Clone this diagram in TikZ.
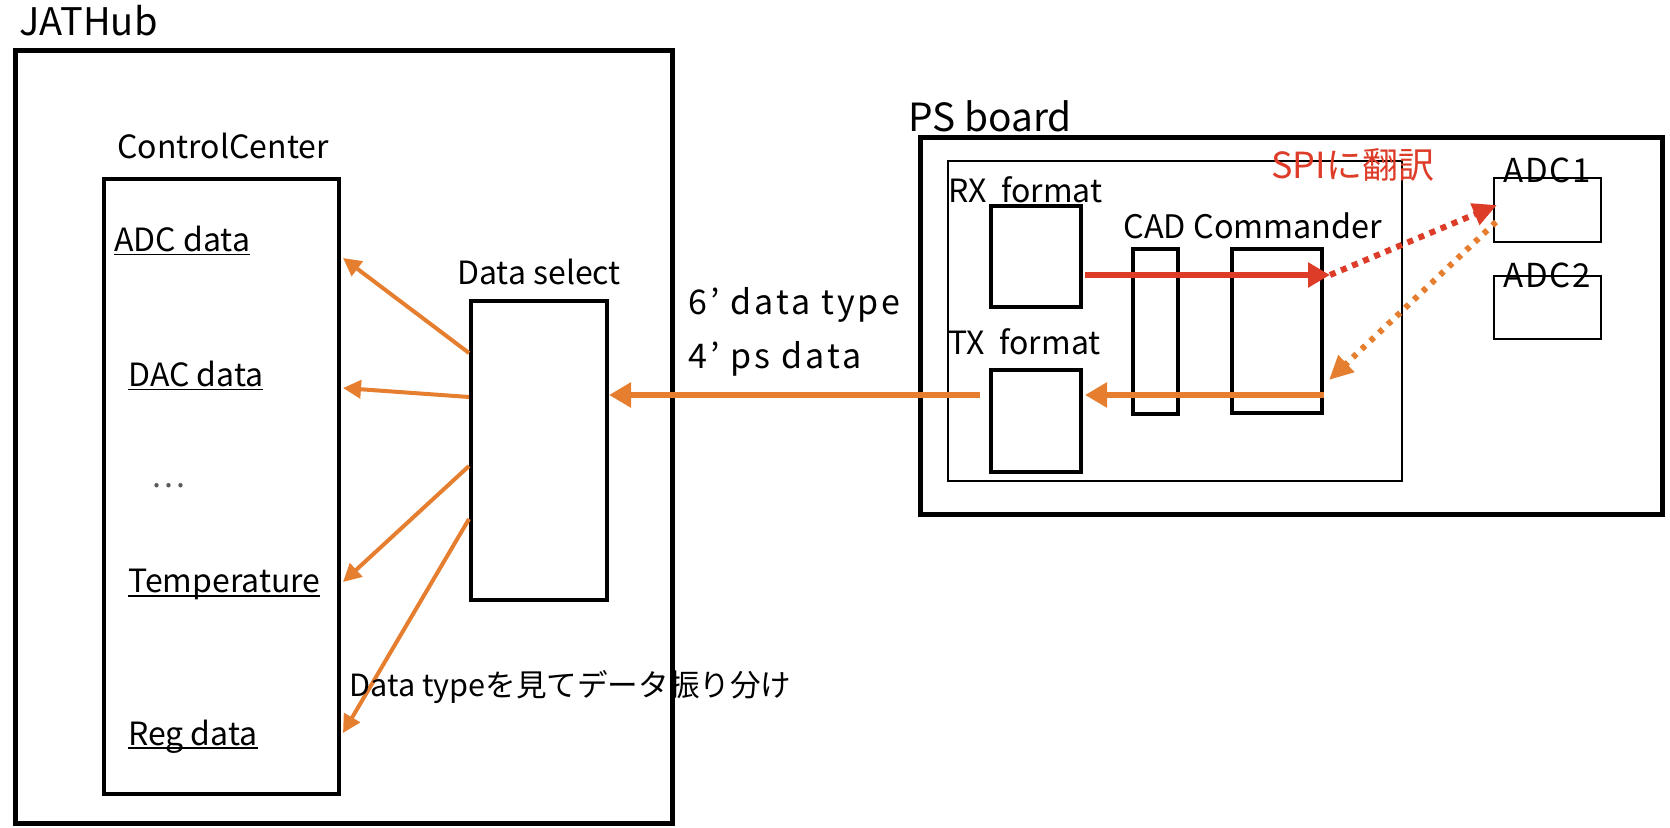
\documentclass[tikz,border=0pt]{standalone}
\usepackage{fontspec}
\setmainfont{Noto Sans CJK JP}
\usetikzlibrary{arrows.meta,fit}
\definecolor{aorange}{RGB}{230,126,48}
\definecolor{ared}{RGB}{221,60,40}
\definecolor{agray}{RGB}{90,90,90}
\newcommand\fsz[1]{\fontsize{#1}{#1}\selectfont}
\newlength\ulw
\newcommand\ultext[1]{\settowidth\ulw{#1}\makebox[0pt][l]{\rule[-1.9pt]{\ulw}{0.8pt}}#1}
\begin{document}
\begin{tikzpicture}[x=0.5pt,y=-0.5pt,
  boxA/.style={draw,line width=2.5pt,inner sep=0pt},
  boxB/.style={draw,line width=2pt,inner sep=0pt},
  boxC/.style={draw,line width=1pt,inner sep=0pt},
  boxD/.style={draw,line width=0.9pt,inner sep=0pt},
  lbl/.style={anchor=base west,inner sep=0pt,font=\fsz{16}},
  sel/.style={aorange,line width=2pt,-{Triangle[length=9pt,width=9pt]}},
  bigo/.style={aorange,line width=3pt,-{Triangle[length=11pt,width=12pt]}},
  bigr/.style={ared,line width=2.8pt,-{Triangle[length=11pt,width=12pt]}},
  dotr/.style={ared,line width=3pt,dash pattern=on 3pt off 3pt,-{Triangle[length=12pt,width=11pt]}},
  doto/.style={aorange,line width=3pt,dash pattern=on 2.5pt off 3.5pt,-{Triangle[length=12pt,width=11pt]}},
]
\useasboundingbox (0,0) rectangle (1670,828);
% JATHub
\node[boxA,fit={(15,51)(672,823)}] (jat) {};
\node[lbl,font=\fsz{19}] (jatl) at (19,36) {JATHub};
\node[boxB,fit={(103.5,179)(339,794)}] (cc) {};
\node[lbl] (ccl) at (117,159) {ControlCenter};
\node[lbl] (adc) at (114,251.7) {\ultext{ADC data}};
\node[lbl] (dac) at (128,386.7) {\ultext{DAC data}};
\node[anchor=center,inner sep=0pt,text=agray,font=\fsz{16}] (dots) at (168,486) {…};
\node[lbl] (temp) at (128,592.7) {\ultext{Temperature}};
\node[lbl] (reg) at (128,745) {\ultext{Reg data}};
\node[boxB,fit={(471,301)(607,600)}] (ds) {};
\node[lbl] (dsl) at (457,285) {Data select};
\coordinate (t1) at (343,258);
\coordinate (t2) at (343,388);
\coordinate (t3) at (343,582);
\coordinate (t4) at (343,733);
\draw[sel] ([yshift=-27pt]ds.north west) -- (t1);
\draw[sel] ([yshift=-49pt]ds.north west) -- (t2);
\draw[sel] ([yshift=-83.5pt]ds.north west) -- (t3);
\draw[sel] ([yshift=-110pt]ds.north west) -- (t4);
\node[lbl,font=\fsz{17}\addfontfeatures{LetterSpace=9}] (l6) at (688,315) {6’ data type};
\node[lbl,font=\fsz{17}\addfontfeatures{LetterSpace=9}] (l4) at (688,369) {4’ ps data};
\node[lbl,font=\fsz{15.3}] (dtl) at (349,696) {Data typeを見てデータ振り分け};
% PS board
\node[boxA,fit={(920,138)(1662,514)}] (ps) {};
\node[lbl,font=\fsz{19.4}] (psl) at (908,131.7) {PS board};
\node[boxC,fit={(948,161)(1402,481)}] (inner) {};
\node[lbl] (rxl) at (948,202.7) {RX\ \ format};
\node[boxB,fit={(991,206)(1081,307)}] (rx) {};
\node[lbl] (txl) at (948,355) {TX\ \ format};
\node[boxB,fit={(991,370)(1081,472)}] (tx) {};
\node[lbl,font=\fsz{16.2}] (cadl) at (1123,239) {CAD Commander};
\node[boxB,fit={(1133,249)(1178,414)}] (cad) {};
\node[boxB,fit={(1232,249)(1322,413)}] (cmd) {};
\node[lbl,font=\fsz{18},text=ared] (spi) at (1271,179) {SPIに翻訳};
\node[boxD,fit={(1494,178)(1601,242)}] (adc1) {};
\node[boxD,fit={(1494,276)(1601,339)}] (adc2) {};
\node[anchor=base,inner sep=0pt,font=\fsz{16.5}\addfontfeatures{LetterSpace=5}] (adc1l) at (1547,183) {ADC1};
\node[anchor=base,inner sep=0pt,font=\fsz{16.5}\addfontfeatures{LetterSpace=5}] (adc2l) at (1547,288) {ADC2};
% connectors
\coordinate (bs) at (980,395);
\draw[bigo] (bs) -- (ds.east |- bs);
\coordinate (rs) at (1085,275);
\coordinate (re) at (1330,275);
\draw[bigr] (rs) -- (re);
\coordinate (os) at (1324,395);
\coordinate (oe) at (1085,395);
\draw[bigo] (os) -- (oe);
\coordinate (a1in) at (1497,205);
\coordinate (a1out) at (1496,222);
\coordinate (ce) at (1329,380);
\draw[dotr] (re) -- (a1in);
\draw[doto] (a1out) -- (ce);
\end{tikzpicture}
\end{document}
